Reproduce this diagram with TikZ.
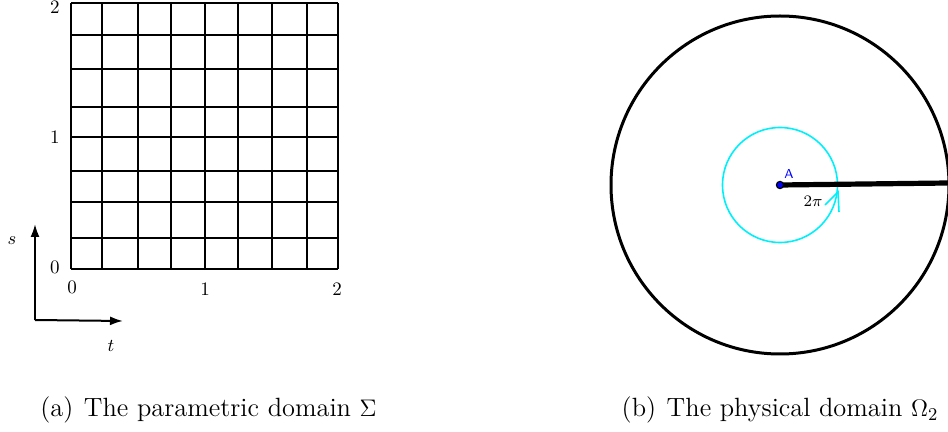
\documentclass[tikz,border=0pt]{standalone}
\usetikzlibrary{arrows.meta}
\definecolor{cyanref}{RGB}{0,240,250}
\begin{document}
\begin{tikzpicture}[x=0.5pt,y=-0.5pt,
  gridline/.style={line width=1pt,black},
  axisarrow/.style={line width=1pt,-{Latex[length=6.5pt,width=4.5pt]}},
  ticklbl/.style={font=\fontsize{9.5}{11}\selectfont,inner sep=0pt},
  caption/.style={font=\fontsize{13.2}{15}\selectfont,inner sep=0pt},
  outer/.style={line width=1.5pt,black},
  cyanline/.style={line width=0.8pt,cyanref}]
\useasboundingbox (0,0) rectangle (948,432);
% grid
\foreach \x in {71,102,138,171,205,238,272,307,338}
  \draw[gridline] (\x,3) -- (\x,269);
\foreach \y in {3,35,69,107,137,171,202,238,269}
  \draw[gridline] (71,\y) -- (338,\y);
% tick labels
\node[ticklbl] (s2) at (55,7) {2};
\node[ticklbl] (s1) at (55,137) {1};
\node[ticklbl] (s0) at (55,267) {0};
\node[ticklbl] (t0) at (72,287) {0};
\node[ticklbl] (t1) at (205,289) {1};
\node[ticklbl] (t2) at (337,289) {2};
% axes
\coordinate (O) at (35,320);
\coordinate (S) at (35,224);
\coordinate (T) at (123,321);
\draw[axisarrow] (O) -- (S);
\draw[axisarrow] (O) -- (T);
\node[ticklbl] (slbl) at (12,241) {$s$};
\node[ticklbl] (tlbl) at (111,346) {$t$};
% captions
\node[caption] (capa) at (208.5,410) {(a)\hspace{0.4em}The parametric domain $\Sigma$};
\node[caption] (capb) at (780,410) {(b)\hspace{0.4em}The physical domain $\Omega_2$};
% physical domain
\coordinate (C) at (780,185);
\coordinate (R) at (948,183);
\draw[outer] (C) circle[radius=84.5pt];
\draw[cyanline] (C) circle[radius=28.75pt];
\draw[line width=2.6pt,black] (C) -- (R);
\draw[cyanline] (825,205) -- (838,192) -- (839,212);
\node[circle,fill=blue,draw=black,line width=0.6pt,inner sep=0pt,minimum size=3.6pt] (A) at (C) {};
\node[font=\sffamily\fontsize{6.5}{7}\selectfont,text=blue,inner sep=0pt] (Alabel) at (789,174) {A};
\node[ticklbl,font=\fontsize{8}{9}\selectfont] (twopi) at (813,201) {$2\pi$};
\end{tikzpicture}
\end{document}
